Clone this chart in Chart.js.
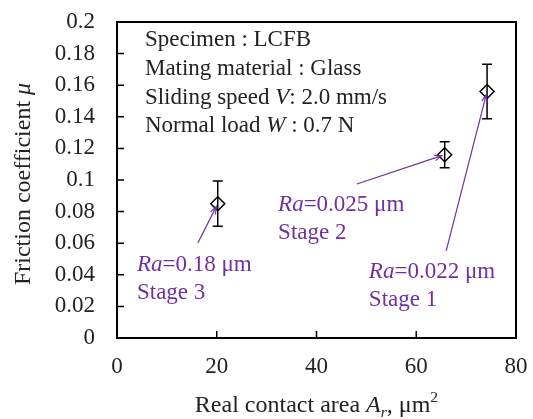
<!DOCTYPE html>
<html>
<head>
<meta charset="utf-8">
<script src="https://cdn.jsdelivr.net/npm/chart.js@4"></script>
<style>
  html, body { margin: 0; padding: 0; background: #fff; }
</style>
</head>
<body>
<canvas id="chart" width="533" height="419"></canvas>
<script>
// ---------- data ----------
const area = [20.2, 65.7, 74.2];          // real contact area, um^2
const mu = [0.085, 0.116, 0.156];         // friction coefficient
const muErr = [0.0143, 0.0082, 0.0173];   // error bar half-length
const xTicks = [0, 20, 40, 60, 80];
const yTicks = [0, 0.02, 0.04, 0.06, 0.08, 0.1, 0.12, 0.14, 0.16, 0.18, 0.2];

// stage labels (per point)
const stageRa = ["0.18", "0.025", "0.022"];
const stageName = ["Stage 3", "Stage 2", "Stage 1"];
// label anchors and arrow tails, in data units
const labelAt = [[4.0, 0.0462], [32.3, 0.0842], [50.5, 0.0418]];
const arrowFrom = [[16.2, 0.0601], [48.1, 0.0975], [66.0, 0.0551]];

// test conditions box
const condLines = [
  [{ t: "Specimen : LCFB" }],
  [{ t: "Mating material : Glass" }],
  [{ t: "Sliding speed " }, { t: "V", i: true }, { t: ": 2.0 mm/s" }],
  [{ t: "Normal load " }, { t: "W", i: true }, { t: " : 0.7 N" }],
];
const condAt = [5.6, 0.1886];
const condStep = 0.0182;

const FONT = "'Liberation Serif', 'Times New Roman', serif";
const PURPLE = "#7030a0";

function drawRich(ctx, segs, x, y, size, color, align) {
  let w = 0;
  segs.forEach((s) => {
    const fs = s.sub || s.sup ? size * 0.65 : size;
    s._font = (s.i ? "italic " : "") + fs + "px " + FONT;
    ctx.font = s._font;
    s._w = ctx.measureText(s.t).width;
    w += s._w;
  });
  let cx = align === "center" ? x - w / 2 : x;
  ctx.fillStyle = color;
  ctx.textBaseline = "middle";
  ctx.textAlign = "left";
  segs.forEach((s) => {
    ctx.font = s._font;
    const dy = s.sub ? size * 0.28 : s.sup ? -size * 0.32 : 0;
    ctx.fillText(s.t, cx, y + dy);
    cx += s._w;
  });
}

const decor = {
  id: "decor",
  afterDatasetsDraw(chart) {
    const { ctx, chartArea: a, scales: { x, y } } = chart;
    ctx.save();

    // error bars
    ctx.strokeStyle = "#000";
    ctx.lineWidth = 1.5;
    area.forEach((v, i) => {
      const px = x.getPixelForValue(v);
      const top = y.getPixelForValue(mu[i] + muErr[i]);
      const bot = y.getPixelForValue(mu[i] - muErr[i]);
      ctx.beginPath();
      ctx.moveTo(px, top); ctx.lineTo(px, bot);
      ctx.moveTo(px - 5, top); ctx.lineTo(px + 5, top);
      ctx.moveTo(px - 5, bot); ctx.lineTo(px + 5, bot);
      ctx.stroke();
    });

    // frame and inward ticks
    ctx.lineWidth = 2;
    ctx.strokeRect(a.left, a.top, a.right - a.left, a.bottom - a.top);
    ctx.lineWidth = 1.5;
    ctx.beginPath();
    yTicks.forEach((v) => {
      const py = y.getPixelForValue(v);
      ctx.moveTo(a.left, py); ctx.lineTo(a.left + 7, py);
    });
    xTicks.forEach((v) => {
      const px = x.getPixelForValue(v);
      ctx.moveTo(px, a.bottom); ctx.lineTo(px, a.bottom - 7);
    });
    ctx.stroke();

    // conditions text
    condLines.forEach((segs, k) => {
      drawRich(ctx, segs, x.getPixelForValue(condAt[0]),
        y.getPixelForValue(condAt[1] - k * condStep), 23, "#222", "left");
    });

    // stage labels and arrows
    ctx.strokeStyle = PURPLE;
    ctx.lineWidth = 1.2;
    area.forEach((v, i) => {
      const lx = x.getPixelForValue(labelAt[i][0]);
      const ly = y.getPixelForValue(labelAt[i][1]);
      drawRich(ctx, [{ t: "Ra", i: true }, { t: "=" + stageRa[i] + " μm" }], lx, ly, 23, PURPLE, "left");
      drawRich(ctx, [{ t: stageName[i] }], lx, ly + 28, 23, PURPLE, "left");

      const sx = x.getPixelForValue(arrowFrom[i][0]);
      const sy = y.getPixelForValue(arrowFrom[i][1]);
      let ex = x.getPixelForValue(v);
      let ey = y.getPixelForValue(mu[i]);
      const ang = Math.atan2(ey - sy, ex - sx);
      ex -= 3 * Math.cos(ang); ey -= 3 * Math.sin(ang);
      ctx.beginPath();
      ctx.moveTo(sx, sy); ctx.lineTo(ex, ey);
      ctx.moveTo(ex - 8 * Math.cos(ang - 0.35), ey - 8 * Math.sin(ang - 0.35));
      ctx.lineTo(ex, ey);
      ctx.lineTo(ex - 8 * Math.cos(ang + 0.35), ey - 8 * Math.sin(ang + 0.35));
      ctx.stroke();
    });

    // axis titles
    drawRich(ctx, [
      { t: "Real contact area " }, { t: "A", i: true }, { t: "r", i: true, sub: true },
      { t: ", μm" }, { t: "2", sup: true },
    ], (a.left + a.right) / 2, 406, 24, "#222", "center");
    ctx.translate(24, (a.top + a.bottom) / 2 + 4);
    ctx.rotate(-Math.PI / 2);
    drawRich(ctx, [{ t: "Friction coefficient " }, { t: "μ", i: true }], 0, 0, 24, "#222", "center");

    ctx.restore();
  },
};

new Chart(document.getElementById("chart"), {
  type: "scatter",
  data: {
    datasets: [{
      data: area.map((v, i) => ({ x: v, y: mu[i] })),
      pointStyle: "rectRot",
      pointRadius: 7,
      pointHoverRadius: 7,
      borderColor: "#000",
      backgroundColor: "rgba(0,0,0,0)",
      borderWidth: 1.5,
    }],
  },
  options: {
    responsive: false,
    animation: false,
    devicePixelRatio: 1,
    layout: { padding: { top: 22, right: 17, left: 0, bottom: 0 } },
    plugins: { legend: { display: false }, tooltip: { enabled: false } },
    scales: {
      x: {
        min: 0, max: 80,
        afterBuildTicks: (s) => { s.ticks = xTicks.map((v) => ({ value: v })); },
        afterFit: (s) => { s.height = 81; s.paddingLeft = 0; s.paddingRight = 0; },
        grid: { display: false, drawTicks: false },
        border: { display: false },
        ticks: { padding: 15, color: "#222", font: { family: FONT, size: 23 } },
      },
      y: {
        min: 0, max: 0.2,
        afterBuildTicks: (s) => { s.ticks = yTicks.map((v) => ({ value: v })); },
        afterFit: (s) => { s.width = 117; s.paddingTop = 0; s.paddingBottom = 0; },
        grid: { display: false, drawTicks: false },
        border: { display: false },
        ticks: {
          padding: 22, color: "#222", font: { family: FONT, size: 23 },
          callback: (v) => String(+v.toFixed(2)),
        },
      },
    },
  },
  plugins: [decor],
});
</script>
</body>
</html>
